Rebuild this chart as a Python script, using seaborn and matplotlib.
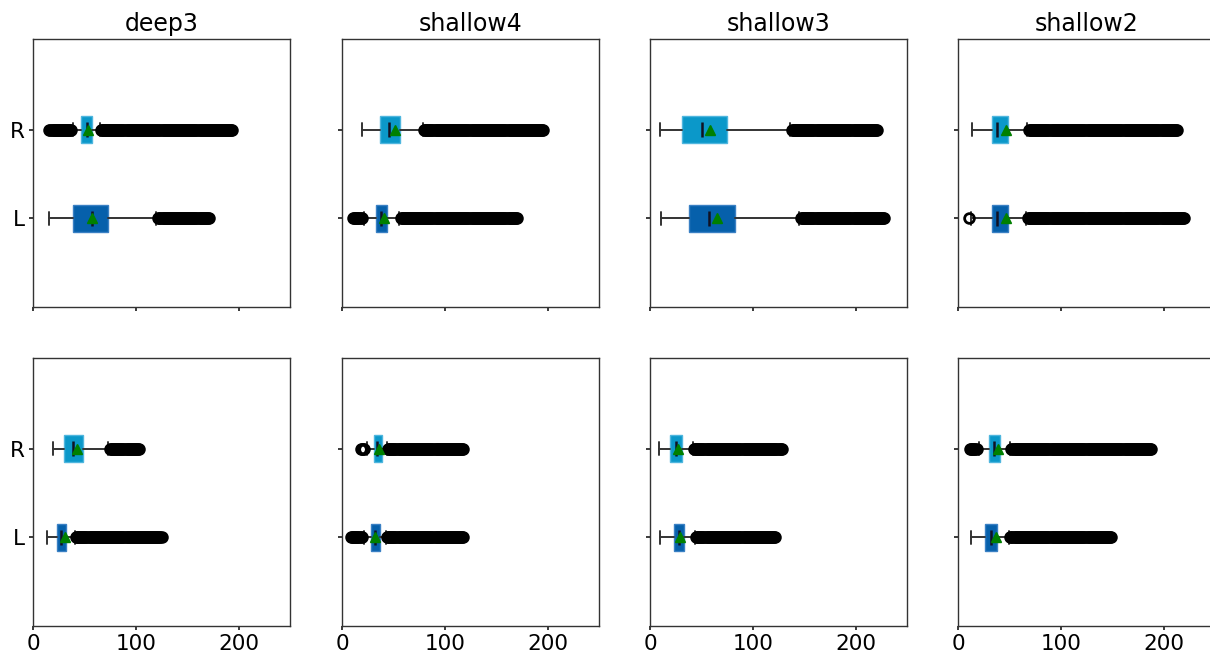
import numpy as np
import matplotlib
matplotlib.use("Agg")
import matplotlib.pyplot as plt
import seaborn as sns

# Panels: four sites (columns) x two sessions (rows)
sites = ["deep3", "shallow4", "shallow3", "shallow2"]
sides = ["L", "R"]

# Box statistics per panel, row-major (top row first, then bottom row)
L_whislo = [15.5, 21, 10.7, 13, 14, 21, 9.7, 12.3]
L_q1 = [38.5, 33, 38, 33, 23, 28, 23.3, 26.2]
L_med = [57, 38, 57.5, 38, 27, 32, 28, 32]
L_q3 = [73, 44, 83, 49, 32.5, 37, 33.3, 38.2]
L_whishi = [120, 55, 145, 66, 41, 43, 43.7, 49.5]
L_mean = [57.5, 40.5, 65.5, 47, 31, 32.5, 29, 37]
L_low_out = [None, (11, 19), None, (11, 11), None, (9, 19), None, None]
L_high_out = [(122, 171), (57, 170), (147, 228), (68, 220),
              (42, 125), (44, 118), (45, 122), (51, 149)]

R_whislo = [39, 19, 9.7, 14, 19.7, 24, 8.7, 20]
R_q1 = [47, 36.5, 30.7, 33.3, 30, 31, 19.4, 30.4]
R_med = [53, 45.5, 50.5, 38, 38.5, 34, 25, 35.3]
R_q3 = [57, 56, 75, 49, 49, 38.7, 30.7, 41]
R_whishi = [65, 79, 136, 67, 73, 43.6, 42, 50.5]
R_mean = [53.5, 51.5, 58, 46.5, 42.5, 36, 27.5, 38.8]
R_low_out = [(16, 37), None, None, None, None, (18, 21), None, (12, 18)]
R_high_out = [(66, 194), (80, 196), (138, 221), (69, 213),
              (75, 103), (45, 118), (43, 128), (52, 188)]

x_ticks = [0, 100, 200]

COLOR_L = "#0660ab"
COLOR_R = "#0b98c9"
EDGE_L = "#3a80c4"
EDGE_R = "#4fb6de"

sns.set_theme(style="ticks", rc={
    "axes.edgecolor": "#333333",
    "axes.linewidth": 1.0,
    "xtick.major.size": 3,
    "ytick.major.size": 3,
    "xtick.color": "#222222",
    "ytick.color": "#222222",
    "xtick.labelcolor": "black",
    "ytick.labelcolor": "black",
    "text.color": "black",
    "axes.titlecolor": "black",
})
plt.rcParams["font.family"] = ["DejaVu Sans"]


def outliers(low, high):
    # outlying observations take every integer value in these spans
    vals = []
    for span in (low, high):
        if span is not None:
            vals.extend(np.arange(span[0], span[1] + 1))
    return np.array(vals, dtype=float)


def stats(i, side):
    if side == "L":
        return dict(whislo=L_whislo[i], q1=L_q1[i], med=L_med[i], q3=L_q3[i],
                    whishi=L_whishi[i], mean=L_mean[i],
                    fliers=outliers(L_low_out[i], L_high_out[i]))
    return dict(whislo=R_whislo[i], q1=R_q1[i], med=R_med[i], q3=R_q3[i],
                whishi=R_whishi[i], mean=R_mean[i],
                fliers=outliers(R_low_out[i], R_high_out[i]))


fig = plt.figure(figsize=(12.1, 6.53), dpi=100)

col_left = [33, 342, 650, 958]
ax_w = 257
row_top = [39, 358]
ax_h = 268
W, H = 1210, 653
box_w = 0.3

for r in range(2):
    for c in range(4):
        i = r * 4 + c
        ax = fig.add_axes([col_left[c] / W, 1 - (row_top[r] + ax_h) / H,
                           ax_w / W, ax_h / H])
        parts = ax.bxp(
            [stats(i, "L"), stats(i, "R")],
            positions=[1, 2], widths=box_w, orientation="horizontal",
            patch_artist=True, showmeans=True, manage_ticks=False,
            boxprops=dict(linewidth=1.0),
            whiskerprops=dict(color="#333333", linewidth=1.4),
            capprops=dict(color="#333333", linewidth=1.4),
            medianprops=dict(color="#111122", linewidth=1.8),
            meanprops=dict(marker="^", markerfacecolor="green",
                           markeredgecolor="green", markersize=7),
            flierprops=dict(marker="o", markerfacecolor="none",
                            markeredgecolor="black", markersize=7,
                            markeredgewidth=2.0),
        )
        for patch, fc, ec in zip(parts["boxes"], [COLOR_L, COLOR_R],
                                 [EDGE_L, EDGE_R]):
            patch.set_facecolor(fc)
            patch.set_edgecolor(ec)
        for line, pos in zip(parts["medians"], [1, 2]):
            half = box_w / 2 * 0.55
            line.set_ydata([pos - half, pos + half])

        ax.set_xlim(0, 250)
        ax.set_ylim(0, 3.02)
        ax.set_xticks(x_ticks)
        ax.set_yticks([1, 2])
        ax.tick_params(labelsize=15.5, pad=3)
        if c == 0:
            ax.set_yticklabels(sides)
        else:
            ax.set_yticklabels([])
        if r == 0:
            ax.set_xticklabels([])
            ax.set_title(sites[c], fontsize=17, pad=6)
        for s in ax.spines.values():
            s.set_visible(True)

fig.savefig("out.png", dpi=100)
